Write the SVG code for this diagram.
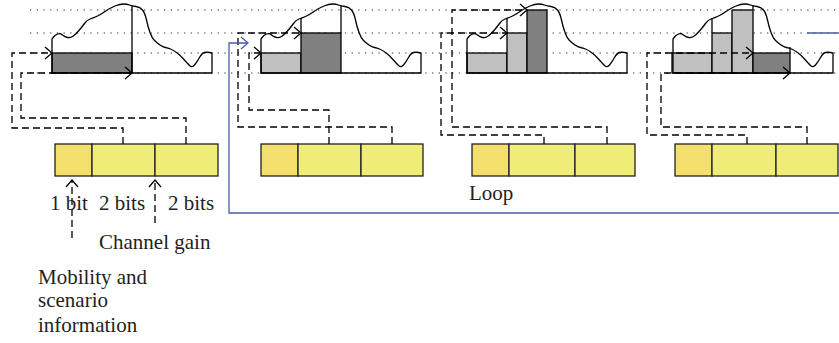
<svg xmlns="http://www.w3.org/2000/svg" xmlns:xlink="http://www.w3.org/1999/xlink" width="839" height="343" viewBox="0 0 839 343">
<style>
.dot{stroke:#333;stroke-width:1.2;stroke-dasharray:1.3 5.4;fill:none}
.wave{fill:none;stroke:#000;stroke-width:1.3;stroke-linejoin:round}
.lt{fill:#c0c0c0;stroke:#000;stroke-width:1.3}
.dk{fill:#808080;stroke:#000;stroke-width:1.3}
.vl{stroke:#000;stroke-width:1.3;fill:none}
.c1{fill:#f4de6c;stroke:#222;stroke-width:1.3}
.c2{fill:#f0ec78;stroke:#222;stroke-width:1.3}
.dash{fill:none;stroke:#000;stroke-width:1.3;stroke-dasharray:7 4}
.loop{fill:none;stroke:#4a5bab;stroke-width:1.3}
text{font-family:"Liberation Serif","DejaVu Serif",serif;font-size:21px;fill:#231f20}
</style>
<defs>
<marker id="ah" markerUnits="userSpaceOnUse" markerWidth="12" markerHeight="14" refX="8" refY="7" orient="auto" overflow="visible">
<path d="M1,1 L8,7 L1,13" fill="none" stroke="#000" stroke-width="1.3"/>
</marker>
<marker id="ahb" markerUnits="userSpaceOnUse" markerWidth="12" markerHeight="14" refX="8" refY="7" orient="auto" overflow="visible">
<path d="M1,1 L8,7 L1,13" fill="none" stroke="#4a5bab" stroke-width="1.3"/>
</marker>
<path id="wave" d="M0,73 V39 L1.5,37 Q3,35 5.5,34 Q8,33 10.5,35 Q13,37 15.5,37.5 Q18,38 20.5,36.5 Q23,35 26.5,31 Q30,27 32.5,23.5 Q35,20 38,19 Q41,18 44.5,16.5 Q48,15 53,11.5 Q58,8 63,6 Q68,4 71.5,4 Q75,4 77.5,5 Q80,6 84,6.5 Q88,7 90.5,10 Q93,13 94.5,20 Q96,27 98,32.5 Q100,38 102.5,40.5 Q105,43 108,45 Q111,47 113.5,47.5 Q116,48 118.5,49 Q121,50 124.5,52.5 Q128,55 131.5,59 Q135,63 137.5,65.5 Q140,68 142.5,65 Q145,62 147.5,57.5 Q150,53 152.5,52.5 Q155,52 157.5,52.5 L160,53 V73 Z"/>
</defs>
<rect width="839" height="343" fill="#fff"/>
<g id="gridlines">
<line class="dot" x1="30" y1="10" x2="839" y2="10"/>
<line class="dot" x1="30" y1="33" x2="839" y2="33"/>
<line class="dot" x1="30" y1="53" x2="839" y2="53"/>
<line class="dot" x1="30" y1="73" x2="839" y2="73"/>
</g>
<g id="panel1">
<rect class="dk" x="52" y="53" width="80" height="20"/>
<line class="vl" x1="132" y1="73" x2="132" y2="6"/>
<use href="#wave" xlink:href="#wave" class="wave" transform="translate(52,0)"/>
</g>
<g id="panel2">
<rect class="lt" x="261" y="53" width="40" height="20"/>
<rect class="dk" x="301" y="33" width="40" height="40"/>
<line class="vl" x1="301" y1="33" x2="301" y2="18"/>
<line class="vl" x1="341" y1="33" x2="341" y2="6"/>
<use href="#wave" xlink:href="#wave" class="wave" transform="translate(261,0)"/>
</g>
<g id="panel3">
<rect class="lt" x="467" y="53" width="40" height="20"/>
<rect class="lt" x="507" y="33" width="20" height="40"/>
<rect class="dk" x="527" y="10" width="20" height="63"/>
<line class="vl" x1="507" y1="33" x2="507" y2="18"/>
<use href="#wave" xlink:href="#wave" class="wave" transform="translate(467,0)"/>
</g>
<g id="panel4">
<rect class="lt" x="672" y="53" width="40" height="20"/>
<rect class="lt" x="712" y="33" width="20" height="40"/>
<rect class="lt" x="732" y="10" width="21" height="63"/>
<rect class="dk" x="753" y="53" width="37" height="20"/>
<line class="vl" x1="712" y1="33" x2="712" y2="18"/>
<line class="vl" x1="753" y1="10" x2="753" y2="6"/>
<line class="vl" x1="790" y1="53" x2="790" y2="47"/>
<use href="#wave" xlink:href="#wave" class="wave" transform="translate(673,0)"/>
</g>
<g id="box1">
<rect class="c1" x="55" y="144" width="37" height="32"/>
<rect class="c2" x="92" y="144" width="63" height="32"/>
<rect class="c2" x="155" y="144" width="63" height="32"/>
</g>
<g id="box2">
<rect class="c1" x="261" y="144" width="37" height="32"/>
<rect class="c2" x="298" y="144" width="63" height="32"/>
<rect class="c2" x="361" y="144" width="62" height="32"/>
</g>
<g id="box3">
<rect class="c1" x="472" y="144" width="37" height="32"/>
<rect class="c2" x="509" y="144" width="66" height="32"/>
<rect class="c2" x="575" y="144" width="60" height="32"/>
</g>
<g id="box4">
<rect class="c1" x="675" y="144" width="37" height="32"/>
<rect class="c2" x="712" y="144" width="64" height="32"/>
<rect class="c2" x="776" y="144" width="62" height="32"/>
</g>
<g id="connectors">
<path class="dash" d="M123,144 V128 H12 V53 H52" marker-end="url(#ah)"/>
<path class="dash" d="M186,144 V118 H21 V73 H132" marker-end="url(#ah)"/>
<path class="dash" d="M392,144 V127 H238 V33 H301" marker-end="url(#ah)"/>
<path class="dash" d="M329,144 V110 H249 V53 H261" marker-end="url(#ah)"/>
<path class="dash" d="M544,144 V135 H441 V33 H507" marker-end="url(#ah)"/>
<path class="dash" d="M607,144 V127 H452 V10 H527" marker-end="url(#ah)"/>
<path class="dash" d="M747,144 V135 H647 V53 H753" marker-end="url(#ah)"/>
<path class="dash" d="M807,144 V127 H661 V73 H790" marker-end="url(#ah)"/>
<path class="dash" d="M72,238 V180" marker-end="url(#ah)"/>
<path class="dash" d="M155,223 V180" marker-end="url(#ah)"/>
<path class="loop" d="M807,33 H845 V213 H229 V43 H248" marker-end="url(#ahb)"/>
</g>
<g id="labels">
<text x="50" y="210">1 bit</text>
<text x="99" y="210">2 bits</text>
<text x="168" y="210">2 bits</text>
<text x="99" y="249">Channel gain</text>
<text x="38" y="284">Mobility and</text>
<text x="38" y="307">scenario</text>
<text x="38" y="332">information</text>
<text x="469" y="200">Loop</text>
</g>
</svg>
